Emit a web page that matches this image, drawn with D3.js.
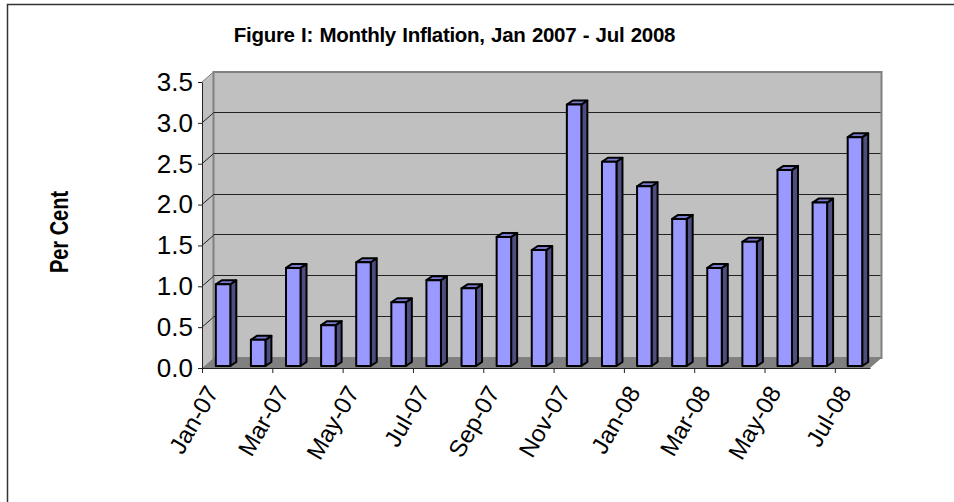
<!DOCTYPE html>
<html>
<head>
<meta charset="utf-8">
<script src="https://cdn.jsdelivr.net/npm/d3@7"></script>
<style>
    html, body { margin: 0; padding: 0; background: #fff; }
    svg { display: block; }
    text { font-family: "Liberation Sans", Arial, sans-serif; fill: #000; }
    .axis text { font-size: 26px; }
    .axis path, .axis line { stroke: #222; stroke-width: 1; }
</style>
</head>
<body>
<script>
var months = ["Jan-07", "Feb-07", "Mar-07", "Apr-07", "May-07", "Jun-07", "Jul-07",
              "Aug-07", "Sep-07", "Oct-07", "Nov-07", "Dec-07", "Jan-08", "Feb-08",
              "Mar-08", "Apr-08", "May-08", "Jun-08", "Jul-08"];
var inflation = [1.0, 0.32, 1.2, 0.5, 1.27, 0.78, 1.05, 0.95, 1.58, 1.42,
                 3.2, 2.5, 2.2, 1.8, 1.2, 1.52, 2.4, 2.0, 2.8];
var y_ticks = [0, 0.5, 1.0, 1.5, 2.0, 2.5, 3.0, 3.5];
var x_tick_index = [0, 2, 4, 6, 8, 10, 12, 14, 16, 18];

var width = 954, height = 502;
var left = 202, right = 870, bottom = 368, top_y = 82;
var depth_x = 11.5, depth_y = 10;      // offset of the back wall
var bar_dx = 6, bar_dy = 4;            // depth of one bar

var svg = d3.select("body").append("svg")
        .attr("width", width)
        .attr("height", height);

// frame, only top and left show in the picture
svg.append("path")
        .attr("d", "M7.5," + height + "V4.5H" + width)
        .attr("fill", "none")
        .attr("stroke", "#333")
        .attr("stroke-width", 1.5);

var scale_y = d3.scaleLinear().domain([0, 3.5]).range([bottom, top_y]);
var scale_tick = d3.scaleLinear().domain([0, months.length]).range([left, right]);
var scale_x = d3.scaleBand().domain(months)
        .range([205.5, 872.5])
        .paddingInner(0.587)
        .paddingOuter(0.2935);

var poly = function(points){ return "M" + points.join("L") + "Z"; };

// left wall
svg.append("path")
        .attr("d", poly([[left, bottom], [left, top_y],
                         [left + depth_x, top_y - depth_y], [left + depth_x, bottom - depth_y]]))
        .attr("fill", "#c0c0c0");

// back wall
svg.append("rect")
        .attr("x", left + depth_x)
        .attr("y", top_y - depth_y)
        .attr("width", right - left)
        .attr("height", bottom - top_y)
        .attr("fill", "#c0c0c0")
        .attr("stroke", "#808080")
        .attr("stroke-width", 2);

// floor, over the wall border
svg.append("path")
        .attr("d", poly([[left, bottom], [right, bottom],
                         [right + depth_x, bottom - depth_y], [left + depth_x, bottom - depth_y]]))
        .attr("fill", "#808080");

// gridlines
var grid = svg.append("g");
y_ticks.forEach(function(v){
    if (v == 0) return;
    if (v < 3.5) {
        var gy = Math.round(scale_y(v) - depth_y) - 0.5;
        grid.append("line")
                .attr("x1", left + depth_x).attr("x2", right + depth_x - 1)
                .attr("y1", gy).attr("y2", gy)
                .attr("stroke", "#222").attr("stroke-width", 1);
    }
    grid.append("line")
            .attr("x1", left).attr("x2", left + depth_x)
            .attr("y1", scale_y(v)).attr("y2", scale_y(v) - depth_y)
            .attr("stroke", v < 3.5 ? "#222" : "#808080").attr("stroke-width", 1);
});

// bars
var bars = svg.selectAll(".bar")
        .data(inflation)
        .enter().append("g")
        .attr("class", "bar")
        .attr("stroke", "#000")
        .attr("stroke-width", 2)
        .attr("stroke-linejoin", "round");

var bar_base = 2;
bars.append("path")
        .attr("fill", "#4d4d80")
        .attr("d", function(d, i){
            var x1 = scale_x(months[i]) + scale_x.bandwidth(), y0 = bottom - bar_base, y1 = scale_y(d) - bar_base;
            return poly([[x1, y0], [x1, y1], [x1 + bar_dx, y1 - bar_dy], [x1 + bar_dx, y0 - bar_dy]]);
        });
bars.append("path")
        .attr("fill", "#7a7acc")
        .attr("d", function(d, i){
            var x0 = scale_x(months[i]), x1 = x0 + scale_x.bandwidth(), y1 = scale_y(d) - bar_base;
            return poly([[x0, y1], [x1, y1], [x1 + bar_dx, y1 - bar_dy], [x0 + bar_dx, y1 - bar_dy]]);
        });
bars.append("rect")
        .attr("fill", "#9999ff")
        .attr("x", function(d, i){ return scale_x(months[i]); })
        .attr("y", function(d){ return scale_y(d) - bar_base; })
        .attr("width", scale_x.bandwidth())
        .attr("height", function(d){ return bottom - scale_y(d); });

// y-axis
svg.append("g")
        .attr("class", "axis")
        .attr("transform", "translate(" + left + ",0)")
        .call(d3.axisLeft(scale_y)
                .tickValues(y_ticks)
                .tickFormat(d3.format(".1f"))
                .tickSize(4)
                .tickSizeOuter(0)
                .tickPadding(5));

// x-axis
var x_axis = svg.append("g")
        .attr("class", "axis")
        .attr("transform", "translate(0," + bottom + ")")
        .call(d3.axisBottom(scale_tick)
                .tickValues(x_tick_index)
                .tickFormat(function(d){ return months[d]; })
                .tickSize(5)
                .tickSizeOuter(0));
x_axis.select(".domain").attr("stroke", "#000").attr("stroke-width", 1.5);
x_axis.selectAll("text")
        .style("text-anchor", "end")
        .style("font-size", "24px")
        .attr("x", 0)
        .attr("y", 0)
        .attr("dy", ".35em")
        .attr("transform", "translate(9.5,20) rotate(-60)");

// title
svg.append("text")
        .text("Figure I: Monthly Inflation, Jan 2007 - Jul 2008")
        .attr("x", 454.5)
        .attr("y", 42)
        .attr("text-anchor", "middle")
        .attr("font-size", 20.5)
        .attr("font-weight", "bold")
        .attr("letter-spacing", "-0.3")
        .attr("word-spacing", "1");

// y label
svg.append("text")
        .text("Per Cent")
        .attr("transform", "translate(68,232) rotate(-90) scale(1,1.25)")
        .attr("text-anchor", "middle")
        .attr("font-size", 20)
        .attr("font-weight", "bold");
</script>
</body>
</html>
